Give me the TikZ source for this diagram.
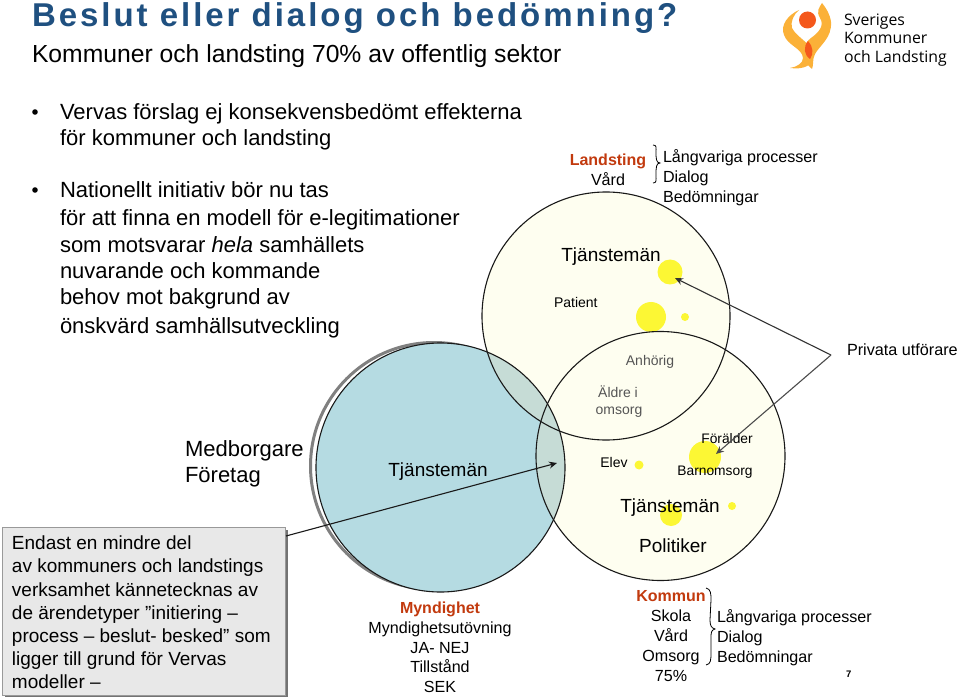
\documentclass[tikz,border=0pt]{standalone}
\usepackage{fontspec}
\setmainfont{Liberation Sans}
\newfontfamily\titlefont[LetterSpace=9]{Liberation Sans}
\newfontfamily\logofont{Open Sans}
\definecolor{titleblue}{HTML}{1F5080}
\definecolor{redlabel}{HTML}{C23A0E}
\definecolor{paleyellow}{HTML}{FEFEF0}
\definecolor{paleblue}{HTML}{B5DBE2}
\definecolor{overlapc}{HTML}{C6DCD6}
\definecolor{blob}{HTML}{FCF734}
\definecolor{graytext}{HTML}{555555}
\definecolor{boxfill}{HTML}{E8E8E8}
\definecolor{logoy}{HTML}{FBB138}
\definecolor{logor}{HTML}{F4581C}
\usetikzlibrary{arrows.meta}
\tikzset{
 txt/.style={anchor=base west,inner sep=0pt,outer sep=0pt},
 ctr/.style={anchor=base,inner sep=0pt,outer sep=0pt},
 body/.style={txt,font=\fontsize{22}{24}\selectfont},
 med/.style={ctr,font=\fontsize{16.1}{18}\selectfont},
 medl/.style={txt,font=\fontsize{16.1}{18}\selectfont},
 big/.style={ctr,font=\fontsize{19}{22}\selectfont},
 small/.style={ctr,font=\fontsize{14}{16}\selectfont},
 redb/.style={ctr,font=\fontsize{16}{18}\selectfont\bfseries,text=redlabel},
 boxt/.style={txt,font=\fontsize{19}{20}\selectfont},
 logot/.style={txt,font=\fontsize{15.8}{19}\selectfont\logofont},
 ring/.style={circle,inner sep=0pt,outer sep=0pt,minimum size=#1},
 blobn/.style={circle,fill=blob,inner sep=0pt,minimum size=#1},
 conn/.style={line width=1.1pt,draw=black!90},
 tip/.style={-{Stealth[length=8pt,width=7pt]}},
}
\begin{document}
\begin{tikzpicture}[x=1pt,y=-1pt]
\useasboundingbox (0,0) rectangle (960,700);
\fill[white] (0,0) rectangle (960,700);
% title
\node[txt,font=\fontsize{33}{36}\selectfont\bfseries\titlefont,text=titleblue] (title) at (32,27) {Beslut eller dialog och bedömning?};
\node[txt,font=\fontsize{24.7}{26}\selectfont] (sub) at (32,63) {Kommuner och landsting 70\% av offentlig sektor};
% logo
\fill[logoy] (799,10) .. controls (788,15) and (780,25) .. (784,35) .. controls (788,46) and (802,48) .. (803,58) .. controls (803,63) and (797,67) .. (790,68) .. controls (804,70) and (814,65) .. (813,55) .. controls (812,43) and (797,38) .. (792,28) .. controls (790,22) and (794,14) .. (799,10) -- cycle;
\fill[logoy] (822,3) .. controls (819,8) and (816,11) .. (820,18) .. controls (825,26) and (818,33) .. (811,38) .. controls (804,43) and (802,52) .. (805,60) .. controls (807,64) and (809,67) .. (812,69) .. controls (814,64) and (812,60) .. (815,54) .. controls (820,45) and (832,38) .. (831,22) .. controls (830,14) and (826,8) .. (822,3) -- cycle;
\fill[logor] (808,41) .. controls (803,47) and (804,55) .. (810,59) .. controls (814,54) and (813,46) .. (808,41) -- cycle;
\node[circle,fill=logor,inner sep=0pt,minimum size=17pt] (logodot) at (807.5,20) {};
\node[logot] (l1) at (844,26) {Sveriges};
\node[logot] (l2) at (844,44) {Kommuner};
\node[logot] (l3) at (844,62.5) {och Landsting};
% bullet text
\fill (35,112) circle (2.8);
\fill (35,190) circle (2.8);
\node[body] (b1) at (60,120) {Vervas förslag ej konsekvensbedömt effekterna};
\node[body] (b2) at (60,146) {för kommuner och landsting};
\node[body] (b3) at (60,198) {Nationellt initiativ bör nu tas};
\node[body] (b4) at (60,225.5) {för att finna en modell för e-legitimationer};
\node[body] (b5) at (60,252.5) {som motsvarar \textit{hela} samhällets};
\node[body] (b6) at (60,278.5) {nuvarande och kommande};
\node[body] (b7) at (60,305) {behov mot bakgrund av};
\node[body] (b8) at (60,333) {önskvärd samhällsutveckling};
% circles
\node[ring=247pt,draw=black!50,line width=3pt] (back) at (434,466) {};
\node[ring=249pt,fill=paleblue] (blue) at (440.5,467.5) {};
\node[ring=248pt,fill=paleyellow] (up) at (606,316) {};
\node[ring=249pt,fill=paleyellow] (low) at (660.5,456) {};
\begin{scope}
\clip (440.5,467.5) circle (124.5);
\fill[overlapc] (606,316) circle (124);
\fill[overlapc] (660.5,456) circle (124.5);
\end{scope}
% blobs
\node[blobn=25pt] (y1) at (670,272) {};
\node[blobn=30pt] (y2) at (651,317) {};
\node[blobn=8pt] (y3) at (685,317) {};
\node[blobn=32pt] (y4) at (705,457) {};
\node[blobn=9pt] (y5) at (639,465) {};
\node[blobn=8pt] (y6) at (732,506) {};
\node[blobn=22pt] (y7) at (671,515) {};
% outlines
\draw[line width=1.1pt,black!90] (606,316) circle (124);
\draw[line width=1.1pt,black!90] (660.5,456) circle (124.5);
\draw[line width=1.1pt,black!90] (440.5,467.5) circle (124.5);
% upper text
\node[redb] (land) at (608,166) {Landsting};
\node[med] (vard1) at (608,186) {Vård};
\draw[line width=.8pt] (653,145) .. controls (657,145) and (656,148) .. (656,152) .. controls (656,158) and (656,163) .. (660,163) .. controls (656,163) and (656,168) .. (656,175) .. controls (656,180) and (657,183) .. (653,183);
\node[medl] (lp1) at (663,163) {Långvariga processer};
\node[medl] (d1) at (663,183) {Dialog};
\node[medl] (be1) at (663,203) {Bedömningar};
\node[big] (tj1) at (611,262) {Tjänstemän};
\node[small,anchor=base west] (pat) at (554,308) {Patient};
\node[small,text=graytext] (anh) at (650,365) {Anhörig};
\node[small,text=graytext] (ald) at (618,397) {Äldre i};
\node[small,text=graytext] (oms) at (619,414) {omsorg};
\node[txt,font=\fontsize{16.2}{18}\selectfont] (priv) at (847,355) {Privata utförare};
\node[txt,font=\fontsize{22}{24}\selectfont] (med) at (185,456) {Medborgare};
\node[txt,font=\fontsize{22}{24}\selectfont] (fore) at (185,482) {Företag};
\node[big] (tj2) at (438,476) {Tjänstemän};
\node[small] (elev) at (614,467) {Elev};
\node[small,font=\fontsize{13.8}{16}\selectfont] (foer) at (727,443) {Förälder};
\node[small,font=\fontsize{13.8}{16}\selectfont] (barn) at (715,475) {Barnomsorg};
\node[big] (tj3) at (670,512) {Tjänstemän};
\node[big] (pol) at (673,552) {Politiker};
% connectors
\coordinate (apex) at (831,355);
\coordinate (t1) at (675,278);
\coordinate (t2) at (716,454);
\coordinate (t3) at (557,463);
\draw[conn,tip,black!80] (apex) -- (t1);
\draw[conn,tip,black!70] (apex) -- (t2);
% text box
\fill[black!55] (5,530) rectangle (288,697);
\node[draw=black!40,line width=1pt,fill=boxfill,minimum width=283pt,minimum height=168pt,inner sep=0pt,anchor=north west] (box) at (2,526.5) {};
\draw[conn,tip] (box.east |- 0,536) -- (t3);
\node[boxt] (t1a) at (12,549) {Endast en mindre del};
\node[boxt] (t2a) at (12,572.5) {av kommuners och landstings};
\node[boxt] (t3a) at (12,596) {verksamhet kännetecknas av};
\node[boxt] (t4a) at (12,619) {de ärendetyper ”initiering –};
\node[boxt] (t5a) at (12,642) {process – beslut- besked” som};
\node[boxt] (t6a) at (12,665) {ligger till grund för Vervas};
\node[boxt] (t7a) at (12,688) {modeller –};
% bottom
\node[redb] (myn) at (440,613) {Myndighet};
\node[med] (m1) at (440,633) {Myndighetsutövning};
\node[med] (m2) at (440,653) {JA- NEJ};
\node[med] (m3) at (440,672) {Tillstånd};
\node[med] (m4) at (440,692) {SEK};
\node[redb] (kom) at (671,601) {Kommun};
\node[med] (k1) at (671,621) {Skola};
\node[med] (k2) at (671,641) {Vård};
\node[med] (k3) at (671,661) {Omsorg};
\node[med] (k4) at (671,681) {75\%};
\draw[line width=.8pt] (706,588) .. controls (711,589) and (711,594) .. (711,600) -- (710,620) .. controls (710,625) and (711,628) .. (715,629) .. controls (711,630) and (711,633) .. (711,638) -- (711,652) .. controls (711,660) and (711,664) .. (706,665);
\node[medl] (lp2) at (717,622) {Långvariga processer};
\node[medl] (d2) at (717,642) {Dialog};
\node[medl] (be2) at (717,662) {Bedömningar};
\node[txt,font=\fontsize{9.5}{11}\selectfont\bfseries] (pg) at (846,677) {7};
\end{tikzpicture}
\end{document}
